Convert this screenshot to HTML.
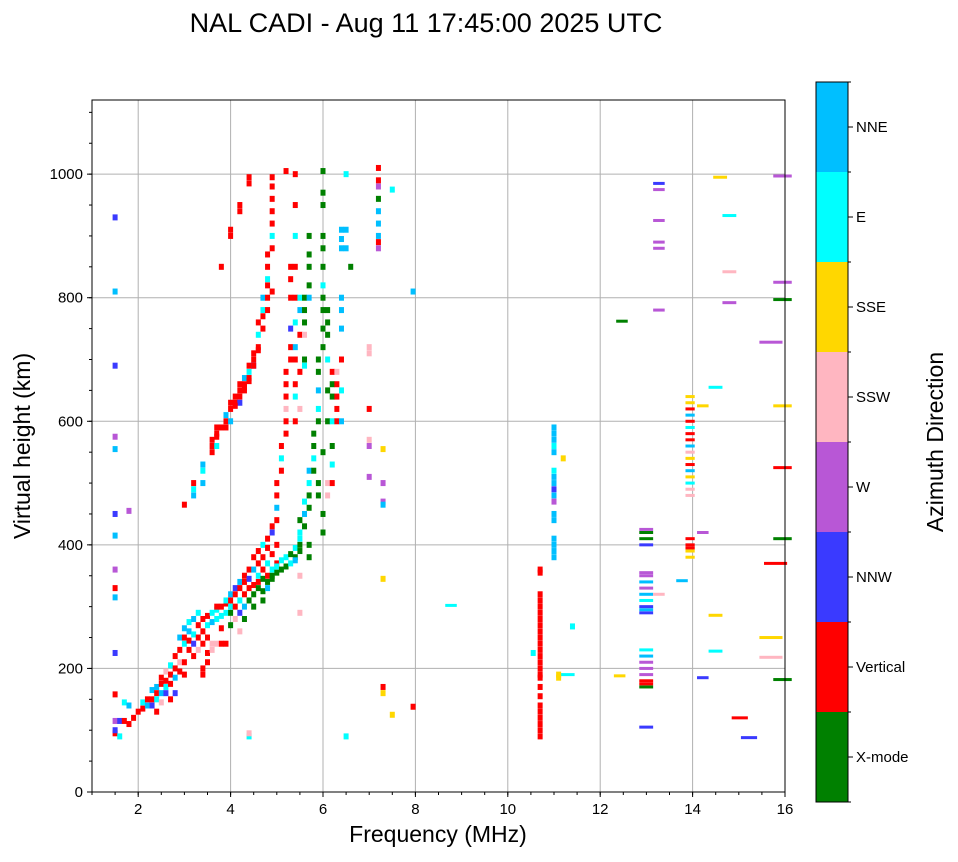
<!DOCTYPE html>
<html><head><meta charset="utf-8">
<style>
html,body{margin:0;padding:0;background:#fff;}
svg text{font-family:"Liberation Sans",sans-serif;}
</style></head>
<body>
<svg id="chart" width="958" height="857" xmlns="http://www.w3.org/2000/svg">
<rect width="958" height="857" fill="#fff"/>
<text x="426" y="32" font-size="27" text-anchor="middle">NAL CADI - Aug 11 17:45:00 2025 UTC</text>
<g id="grid"></g>
<g id="marks"></g>
<rect x="92" y="100" width="693" height="692" fill="none" stroke="#000" stroke-width="1"/>
<g id="axes"></g>
<text x="438" y="842" font-size="23" text-anchor="middle">Frequency (MHz)</text>
<text transform="translate(30,446) rotate(-90)" font-size="23" text-anchor="middle">Virtual height (km)</text>
<g id="colorbar"></g>
<text transform="translate(943,442) rotate(-90)" font-size="23" text-anchor="middle">Azimuth Direction</text>
</svg>
<script>
const xTicks=[2,4,6,8,10,12,14,16];
const yTicks=[0,200,400,600,800,1000];
const directions=["X-mode","Vertical","NNW","W","SSW","SSE","E","NNE"];
const dirColors=["#008000","#ff0000","#3a3aff","#b857d6","#ffb6c1","#ffd700","#00ffff","#00bfff"];
// [freq MHz, virtual height km, direction index, width MHz(optional)]
const echoes=[
[1.5,95,1],[1.5,100,2],[1.5,115,3],[1.5,158,1],[1.6,90,6],[1.6,115,2],[1.7,115,1],[1.7,145,6],[1.8,110,1],[1.8,140,7],[1.9,120,1],[2.0,130,1],
[2.1,135,1],[2.1,145,6],[2.2,140,7],[2.2,150,1],[2.3,150,1],[2.3,165,7],[2.3,140,2],[2.4,160,1],[2.4,170,7],[2.4,150,6],[2.4,130,1],
[2.5,175,1],[2.5,160,7],[2.5,185,1],[2.5,145,4],[2.6,170,6],[2.6,180,1],[2.6,195,4],[2.6,160,2],[2.7,190,1],[2.7,205,6],[2.7,175,1],[2.7,150,1],
[2.8,200,1],[2.8,220,1],[2.8,185,7],[2.8,160,2],[2.9,230,1],[2.9,210,4],[2.9,195,1],[2.9,250,7],[3.0,250,1],[3.0,240,6],[3.0,265,7],[3.0,210,1],[3.0,190,1],
[3.1,260,7],[3.1,245,1],[3.1,230,1],[3.1,275,6],[3.2,255,6],[3.2,280,7],[3.2,240,2],[3.2,220,1],[3.3,270,1],[3.3,250,1],[3.3,290,6],[3.3,230,4],
[3.4,280,1],[3.4,260,1],[3.4,240,1],[3.4,200,1],[3.4,190,1],[3.5,285,1],[3.5,270,6],[3.5,250,1],[3.5,225,1],[3.5,210,1],
[3.6,290,6],[3.6,275,7],[3.6,240,4],[3.6,230,4],[3.7,295,6],[3.7,280,6],[3.7,300,1],[3.7,240,4],[3.8,300,1],[3.8,285,6],[3.8,240,1],[3.8,265,1],
[3.9,305,1],[3.9,310,6],[3.9,290,6],[3.9,240,1],[4.0,310,1],[4.0,290,0],[4.0,270,0],[4.0,320,7],[4.0,300,6],
[4.1,320,1],[4.1,300,1],[4.1,330,2],[4.1,280,4],[4.2,330,1],[4.2,310,6],[4.2,340,7],[4.2,290,2],[4.2,260,4],
[4.3,320,1],[4.3,340,1],[4.3,300,7],[4.3,350,1],[4.3,280,0],[4.4,330,1],[4.4,345,2],[4.4,310,0],[4.4,360,1],
[4.5,335,1],[4.5,320,0],[4.5,360,7],[4.5,300,0],[4.5,380,1],[4.6,340,1],[4.6,330,0],[4.6,350,6],[4.6,370,1],[4.6,390,1],
[4.7,345,0],[4.7,325,0],[4.7,360,1],[4.7,380,1],[4.7,400,6],[4.7,310,0],[4.8,340,0],[4.8,350,1],[4.8,370,6],[4.8,395,1],[4.8,410,1],[4.8,330,7],
[4.9,350,0],[4.9,360,6],[4.9,385,1],[4.9,420,2],[4.9,430,1],[4.9,345,0],
[5.0,355,0],[5.0,370,1],[5.0,400,1],[5.0,440,1],[5.0,460,7],[5.0,480,1],[5.0,500,1],[5.0,365,6],
[5.1,360,0],[5.1,375,6],[5.1,520,1],[5.1,540,6],[5.1,560,1],
[5.2,365,0],[5.2,380,6],[5.2,580,1],[5.2,600,1],[5.2,620,4],[5.2,640,1],[5.2,660,1],[5.2,680,1],
[5.3,370,6],[5.3,385,0],[5.3,700,1],[5.3,720,1],[5.3,750,2],[5.3,800,1],[5.3,830,1],[5.3,850,1],
[5.4,380,0],[5.4,395,6],[5.4,375,7],[5.5,390,0],[5.5,400,0],[5.5,410,6],[5.5,350,4],[5.5,290,4],
[5.5,420,6],[5.5,440,0],[5.6,430,0],[5.6,450,7],[5.6,470,6],[5.7,460,0],[5.7,480,0],[5.7,500,6],[5.7,520,7],[5.7,380,0],[5.7,400,0],
[5.8,520,0],[5.8,540,6],[5.8,560,0],[5.8,580,0],[5.9,500,0],[5.9,600,0],[5.9,620,6],[5.9,650,7],[5.9,680,0],[5.9,700,0],[5.9,480,0],
[6.0,550,0],[6.0,720,0],[6.0,750,0],[6.0,780,0],[6.0,800,0],[6.0,820,6],[6.0,850,0],[6.0,880,0],[6.0,900,0],[6.0,950,0],[6.0,970,0],[6.0,450,0],[6.0,420,0],
[6.1,600,0],[6.1,650,0],[6.1,700,6],[6.1,740,0],[6.1,760,0],[6.1,780,0],[6.1,500,4],[6.1,480,4],
[6.2,530,6],[6.2,560,0],[6.2,600,6],[6.2,640,0],[6.2,660,0],[6.2,680,1],[6.2,500,1],
[6.3,600,1],[6.3,620,1],[6.3,640,1],[6.3,660,1],[6.3,680,4],
[6.4,600,7],[6.4,650,6],[6.4,700,1],[6.4,750,7],[6.4,780,7],[6.4,800,7],[6.4,880,7],[6.4,895,7],[6.4,910,7],[6.5,880,7],[6.5,910,7],[6.6,850,0],
[5.4,600,1],[5.4,640,6],[5.4,660,1],[5.4,700,1],[5.4,720,7],[5.4,760,6],[5.4,800,1],[5.4,850,1],[5.4,900,6],[5.4,950,1],[5.4,1000,1],
[5.5,620,4],[5.5,680,1],[5.5,740,1],[5.5,780,7],[5.5,800,6],[5.6,690,6],[5.6,700,0],[5.6,740,4],[5.6,760,0],[5.6,780,0],[5.6,800,0],
[5.7,800,7],[5.7,820,0],[5.7,850,0],[5.7,870,0],[5.7,900,0],
[3.0,465,1],[3.2,480,7],[3.2,490,6],[3.2,500,1],[3.4,500,7],[3.4,520,6],[3.4,530,7],[3.6,550,1],[3.6,560,1],[3.6,570,1],
[3.7,580,1],[3.7,560,6],[3.7,590,1],[3.9,590,1],[3.9,600,1],[3.9,610,7],[4.0,620,1],[4.0,630,1],[4.0,600,7],[4.1,630,1],[4.1,640,1],
[4.2,640,1],[4.2,650,1],[4.2,660,1],[4.2,630,2],[4.3,650,1],[4.3,660,1],[4.3,670,7],[4.4,670,1],[4.4,680,6],[4.4,690,1],
[4.5,700,1],[4.5,710,1],[4.5,690,2],[4.6,720,1],[4.6,740,6],[4.6,760,1],[4.7,750,1],[4.7,770,1],[4.7,780,6],[4.7,800,7],
[4.8,800,1],[4.8,820,1],[4.8,830,6],[4.8,850,1],[4.8,870,1],[4.9,880,1],[4.9,900,6],[4.9,920,1],[4.9,940,1],[4.9,960,1],[4.9,980,1],[4.9,995,1],
[4.0,900,1],[4.0,910,1],[3.8,850,1],[4.2,950,1],[4.2,940,1],[4.4,985,1],[4.4,995,1],[5.2,1005,1],[6.0,1005,0],
[3.7,575,1],[3.8,590,1],[4.1,625,1],[4.3,655,1],[4.4,665,1],[4.5,690,1],[4.6,715,1],[4.8,780,1],[4.9,810,1],
[1.5,930,2],[1.5,810,7],[1.5,690,2],[1.5,575,3],[1.5,555,7],[1.5,450,2],[1.5,415,7],[1.5,360,3],[1.5,330,1],[1.5,315,7],[1.5,225,2],[1.8,455,3],
[7.0,720,4],[7.0,710,4],[7.0,620,1],[7.0,570,4],[7.0,560,3],[7.0,510,3],[7.2,1010,1],[7.2,990,1],[7.2,980,3],[7.2,960,0],[7.2,940,7],[7.2,920,7],[7.2,900,7],[7.2,880,3],[7.2,890,1],
[7.3,555,5],[7.3,500,3],[7.3,470,3],[7.3,465,7],[7.3,345,5],[7.3,170,1],[7.3,160,5],[7.5,975,6],[7.5,125,5],[7.95,810,7],[7.95,138,1],[8.7,302,6,0.25],
[6.5,1000,6],[6.5,90,6],[4.4,90,6],[4.4,95,4],
[10.7,90,1],[10.7,100,1],[10.7,110,1],[10.7,120,1],[10.7,130,1],[10.7,140,1],[10.7,155,1],[10.7,170,1],[10.7,185,1],[10.7,190,1],[10.7,200,1],[10.7,210,1],[10.7,220,1],[10.7,230,1],[10.7,240,1],[10.7,250,1],[10.7,260,1],[10.7,270,1],[10.7,280,1],[10.7,290,1],[10.7,300,1],[10.7,310,1],[10.7,320,1],[10.7,355,1],[10.7,360,1],[10.55,225,6],
[11.0,380,7],[11.0,390,7],[11.0,400,7],[11.0,410,7],[11.0,440,7],[11.0,450,7],[11.0,470,3],[11.0,480,7],[11.0,490,2],[11.0,500,7],[11.0,510,7],[11.0,520,6],[11.0,550,7],[11.0,560,6],[11.0,570,7],[11.0,580,7],[11.0,590,7],
[11.2,540,5],[11.2,190,6,0.3],[11.1,185,5],[11.1,190,5],[11.4,268,6],[12.35,188,5,0.25],[12.4,762,0,0.25],
[12.9,105,2,0.3],[12.9,170,0,0.3],[12.9,175,1,0.3],[12.9,180,1,0.3],[12.9,190,3,0.3],[12.9,200,3,0.3],[12.9,210,3,0.3],[12.9,220,7,0.3],[12.9,230,6,0.3],[12.9,290,2,0.3],[12.9,295,7,0.3],[12.9,300,2,0.3],[12.9,310,6,0.3],[12.9,320,7,0.3],[12.9,330,3,0.3],[12.9,340,7,0.3],[12.9,350,3,0.3],[12.9,355,3,0.3],[12.9,400,2,0.3],[12.9,410,0,0.3],[12.9,420,0,0.3],[12.9,425,3,0.3],
[13.2,780,3,0.25],[13.2,880,3,0.25],[13.2,890,3,0.25],[13.2,925,3,0.25],[13.2,975,3,0.25],[13.2,985,2,0.25],[13.2,320,4,0.25],[13.7,342,7,0.25],
[13.9,380,5,0.2],[13.9,390,5,0.2],[13.9,395,1,0.2],[13.9,400,1,0.2],[13.9,410,1,0.2],[13.9,480,4,0.2],[13.9,490,4,0.2],[13.9,500,6,0.2],[13.9,510,5,0.2],[13.9,520,7,0.2],[13.9,530,1,0.2],[13.9,540,5,0.2],[13.9,550,4,0.2],[13.9,560,7,0.2],[13.9,570,1,0.2],[13.9,580,1,0.2],[13.9,590,6,0.2],[13.9,600,1,0.2],[13.9,610,7,0.2],[13.9,620,1,0.2],[13.9,630,5,0.2],[13.9,640,5,0.2],
[14.15,625,5,0.25],[14.15,420,3,0.25],[14.15,185,2,0.25],[14.4,655,6,0.3],[14.4,286,5,0.3],[14.4,228,6,0.3],[14.5,995,5,0.3],
[14.7,933,6,0.3],[14.7,842,4,0.3],[14.7,792,3,0.3],[14.9,120,1,0.35],[15.1,88,2,0.35],
[15.5,728,3,0.5],[15.6,370,1,0.5],[15.5,250,5,0.5],[15.5,218,4,0.5],[15.8,997,3,0.4],[15.8,825,3,0.4],[15.8,797,0,0.4],[15.8,625,5,0.4],[15.8,525,1,0.4],[15.8,410,0,0.4],[15.8,182,0,0.4]
];
const NS="http://www.w3.org/2000/svg";
const X0=92,X1=785,Y0=792,Y1=100,FMIN=1,FMAX=16,HMAX=1120;
function xs(f){return X0+(f-FMIN)/(FMAX-FMIN)*(X1-X0);}
function ys(h){return Y0-h/HMAX*(Y0-Y1);}
function mk(tag,attrs,parent){const e=document.createElementNS(NS,tag);for(const k in attrs)e.setAttribute(k,attrs[k]);parent.appendChild(e);return e;}
const grid=document.getElementById('grid'),axes=document.getElementById('axes'),marks=document.getElementById('marks'),cb=document.getElementById('colorbar');
xTicks.forEach(t=>{const x=xs(t);
 if(t<FMAX){const g=mk('line',{x1:x,x2:x,y1:Y1,y2:Y0,stroke:'#b0b0b0','stroke-width':1},grid);
 
 }
 mk('line',{x1:x,x2:x,y1:Y0,y2:Y0+5,stroke:'#000'},axes);
 const tx=mk('text',{x:x,y:Y0+22,'font-size':15,'text-anchor':'middle'},axes);tx.textContent=t;
 
 
});
for(let f=1;f<=16;f+=0.5){const x=xs(f);mk('line',{x1:x,x2:x,y1:Y0,y2:Y0+3,stroke:'#000'},axes);}
for(let h=0;h<=1100;h+=50){const y=ys(h);mk('line',{x1:X0,x2:X0-3,y1:y,y2:y,stroke:'#000'},axes);}
yTicks.forEach(t=>{const y=ys(t);
 if(t>0){const g=mk('line',{x1:X0,x2:X1,y1:y,y2:y,stroke:'#b0b0b0','stroke-width':1},grid);
 
 }
 mk('line',{x1:X0,x2:X0-5,y1:y,y2:y,stroke:'#000'},axes);
 const tx=mk('text',{x:X0-9,y:y+5,'font-size':15,'text-anchor':'end'},axes);tx.textContent=t;
 
 
});
echoes.forEach(d=>{const wide=!!d[3];const w=wide?(xs(d[3])-xs(0)):5;const h=wide?3:6;
 const r=mk('rect',{x:xs(d[0])-2.5,y:ys(d[1])-h/2,width:w,height:h,fill:dirColors[d[2]]},marks);
 
 
});
const CBX=816,CBW=32,CBT=82,CBB=802,seg=(CBB-CBT)/directions.length;
directions.forEach((d,i)=>{const y=CBB-(i+1)*seg;
 const r=mk('rect',{x:CBX,y:y,width:CBW,height:seg,fill:dirColors[i]},cb);
 
 
 const ty=y+seg/2;
 mk('line',{x1:CBX+CBW,x2:CBX+CBW+5,y1:ty,y2:ty,stroke:'#000'},cb);
 const t=mk('text',{x:CBX+CBW+8,y:ty+5,'font-size':15},cb);t.textContent=d;
 
 
});
for(let i=0;i<=directions.length;i++){const y=CBT+i*seg;mk('line',{x1:CBX+CBW,x2:CBX+CBW+3,y1:y,y2:y,stroke:'#000'},cb);}
mk('rect',{x:CBX,y:CBT,width:CBW,height:CBB-CBT,fill:'none',stroke:'#000'},cb);
</script>
</body></html>
